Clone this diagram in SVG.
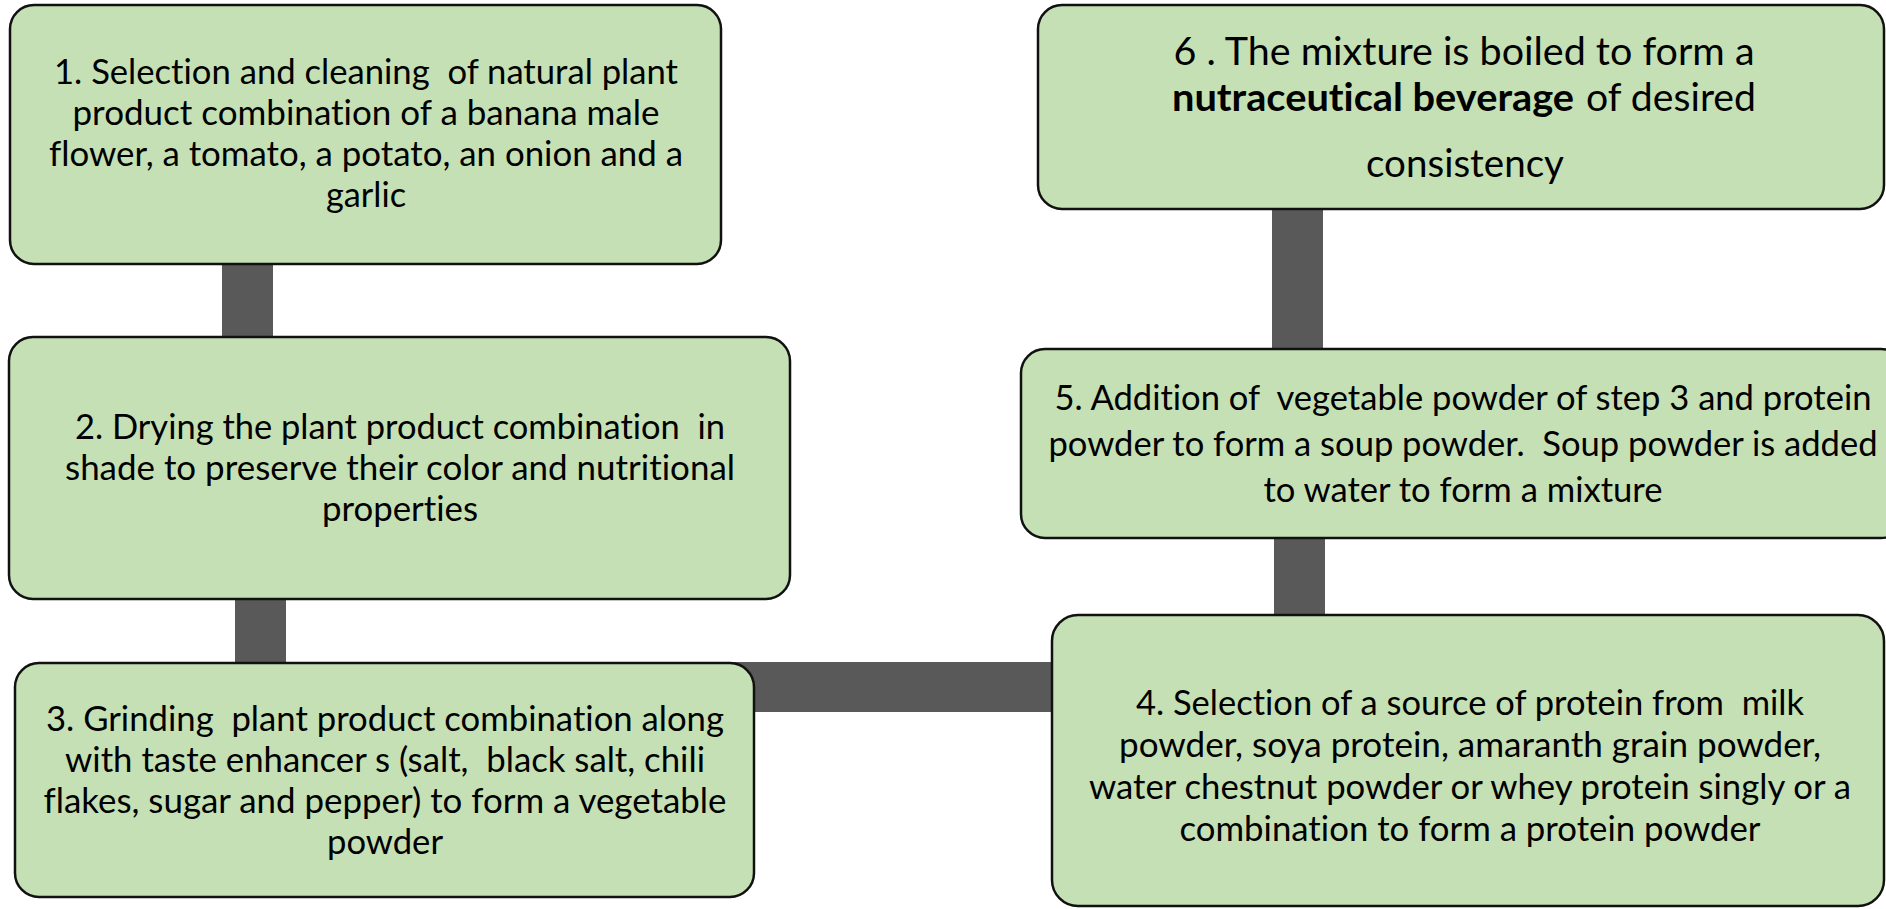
<svg xmlns="http://www.w3.org/2000/svg" width="1886" height="909" viewBox="0 0 1886 909">
<style>
.box{fill:#C5E0B4;stroke:#111;stroke-width:2.5}
.con{fill:#595959}
.t{font-family:Lato,"Liberation Sans",sans-serif;font-size:34px;fill:#000;text-anchor:middle;font-variant-ligatures:none}
.t6{font-family:Lato,"Liberation Sans",sans-serif;font-size:39px;fill:#000;font-variant-ligatures:none}
</style>
<rect x="0" y="0" width="1886" height="909" fill="#fff"/>
<g id="connectors">
<rect class="con" x="222" y="255" width="51" height="90"/>
<rect class="con" x="235" y="590" width="51" height="80"/>
<rect class="con" x="700" y="662" width="360" height="50"/>
<rect class="con" x="1274" y="530" width="51" height="92"/>
<rect class="con" x="1272" y="200" width="51" height="155"/>
</g>
<g id="node1">
<rect class="box" x="10" y="5" width="711" height="259" rx="24"/>
<text class="t" x="366" y="84" textLength="624" lengthAdjust="spacingAndGlyphs" xml:space="preserve">1. Selection and cleaning  of natural plant</text>
<text class="t" x="366" y="125" textLength="587" lengthAdjust="spacingAndGlyphs">product combination of a banana male</text>
<text class="t" x="366" y="166" textLength="634" lengthAdjust="spacingAndGlyphs">flower, a tomato, a potato, an onion and a</text>
<text class="t" x="366" y="207" textLength="80" lengthAdjust="spacingAndGlyphs">garlic</text>
</g>
<g id="node2">
<rect class="box" x="9" y="337" width="781" height="262" rx="24"/>
<text class="t" x="400" y="439" textLength="650" lengthAdjust="spacingAndGlyphs" xml:space="preserve">2. Drying the plant product combination  in</text>
<text class="t" x="400" y="480" textLength="670" lengthAdjust="spacingAndGlyphs">shade to preserve their color and nutritional</text>
<text class="t" x="400" y="521" textLength="156" lengthAdjust="spacingAndGlyphs">properties</text>
</g>
<g id="node3">
<rect class="box" x="15" y="663" width="739" height="234" rx="24"/>
<text class="t" x="385" y="731" textLength="678" lengthAdjust="spacingAndGlyphs" xml:space="preserve">3. Grinding  plant product combination along</text>
<text class="t" x="385" y="772" textLength="640" lengthAdjust="spacingAndGlyphs" xml:space="preserve">with taste enhancer s (salt,  black salt, chili</text>
<text class="t" x="385" y="813" textLength="683" lengthAdjust="spacingAndGlyphs">flakes, sugar and pepper) to form a vegetable</text>
<text class="t" x="385" y="854" textLength="116" lengthAdjust="spacingAndGlyphs">powder</text>
</g>
<g id="node4">
<rect class="box" x="1052" y="615" width="832" height="291" rx="26"/>
<text class="t" x="1470" y="715" textLength="668" lengthAdjust="spacingAndGlyphs" xml:space="preserve">4. Selection of a source of protein from  milk</text>
<text class="t" x="1470" y="757" textLength="702" lengthAdjust="spacingAndGlyphs">powder, soya protein, amaranth grain powder,</text>
<text class="t" x="1470" y="799" textLength="762" lengthAdjust="spacingAndGlyphs">water chestnut powder or whey protein singly or a</text>
<text class="t" x="1470" y="841" textLength="581" lengthAdjust="spacingAndGlyphs">combination to form a protein powder</text>
</g>
<g id="node5">
<rect class="box" x="1021" y="349" width="884" height="189" rx="24"/>
<text class="t" x="1463" y="410" textLength="817" lengthAdjust="spacingAndGlyphs" xml:space="preserve">5. Addition of  vegetable powder of step 3 and protein</text>
<text class="t" x="1463" y="456" textLength="829" lengthAdjust="spacingAndGlyphs" xml:space="preserve">powder to form a soup powder.  Soup powder is added</text>
<text class="t" x="1463" y="502" textLength="399" lengthAdjust="spacingAndGlyphs">to water to form a mixture</text>
</g>
<g id="node6">
<rect class="box" x="1038" y="5" width="846" height="204" rx="24"/>
<text class="t6" x="1464" y="65" text-anchor="middle" textLength="581" lengthAdjust="spacingAndGlyphs">6 . The mixture is boiled to form a</text>
<text class="t6" x="1172" y="111" font-weight="bold" textLength="402" lengthAdjust="spacingAndGlyphs">nutraceutical beverage</text>
<text class="t6" x="1586" y="111" textLength="170" lengthAdjust="spacingAndGlyphs">of desired</text>
<text class="t6" x="1465" y="177" text-anchor="middle" textLength="198" lengthAdjust="spacingAndGlyphs">consistency</text>
</g>
</svg>
